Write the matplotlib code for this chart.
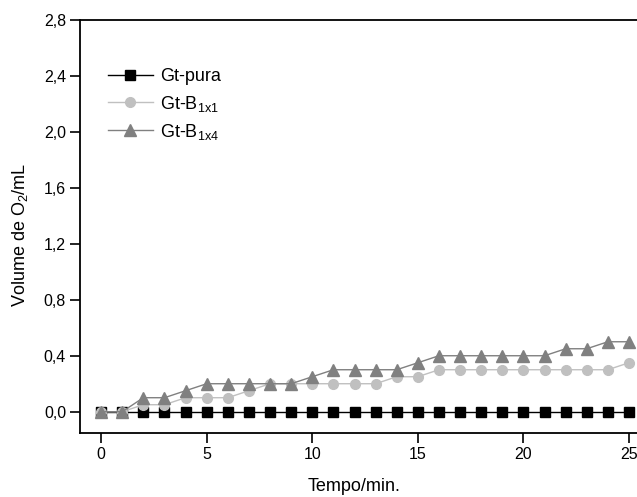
import matplotlib
matplotlib.use("Agg")
import matplotlib.pyplot as plt

plt.rcParams['font.family'] = ['Liberation Sans', 'DejaVu Sans']
plt.rcParams['mathtext.fontset'] = 'custom'
plt.rcParams['mathtext.rm'] = 'Liberation Sans'
plt.rcParams['mathtext.it'] = 'Liberation Sans:italic'

# dados
tempo = list(range(26))
gt_pura = [0.0] * 26
gt_b1x1 = [0, 0, 0.05, 0.05, 0.1, 0.1, 0.1, 0.15, 0.2, 0.2, 0.2, 0.2, 0.2, 0.2,
           0.25, 0.25, 0.3, 0.3, 0.3, 0.3, 0.3, 0.3, 0.3, 0.3, 0.3, 0.35]
gt_b1x4 = [0, 0, 0.1, 0.1, 0.15, 0.2, 0.2, 0.2, 0.2, 0.2, 0.25, 0.3, 0.3, 0.3,
           0.3, 0.35, 0.4, 0.4, 0.4, 0.4, 0.4, 0.4, 0.45, 0.45, 0.5, 0.5]

yticks = [0.0, 0.4, 0.8, 1.2, 1.6, 2.0, 2.4, 2.8]
xticks = [0, 5, 10, 15, 20, 25]

fig = plt.figure(figsize=(6.37, 4.97), dpi=100)
ax = fig.add_axes([0.1256, 0.1294, 0.895, 0.8304])

ax.plot(tempo, gt_pura, color='black', lw=1, marker='s', ms=6.5, label='Gt-pura', zorder=2)
ax.plot(tempo, gt_b1x1, color='#c0c0c0', lw=1, marker='o', ms=7, label=r'Gt-B$\mathregular{_{1x1}}$', zorder=3)
ax.plot(tempo, gt_b1x4, color='#808080', lw=1, marker='^', ms=8, label=r'Gt-B$\mathregular{_{1x4}}$', zorder=4)

ax.set_xlim(-1, 26)
ax.set_ylim(-0.15, 2.8)
ax.set_xticks(xticks)
ax.set_yticks(yticks)
ax.set_yticklabels([f'{v:.1f}'.replace('.', ',') for v in yticks])
ax.tick_params(direction='out', length=7, width=1.2, labelsize=11.5, pad=3)
for s in ax.spines.values():
    s.set_linewidth(1.3)

ax.set_xlabel('Tempo/min.', fontsize=13)
ax.set_ylabel(r'Volume de O$\mathregular{_2}$/mL', fontsize=13)
ax.xaxis.set_label_coords(0.48, -0.11)
ax.yaxis.set_label_coords(-0.088, 0.48)

ax.legend(loc='upper left', bbox_to_anchor=(0.036, 0.9), frameon=False,
          fontsize=13, handlelength=2.5, handletextpad=0.4, labelspacing=0.45,
          borderaxespad=0)

fig.savefig('out.png', dpi=100)
